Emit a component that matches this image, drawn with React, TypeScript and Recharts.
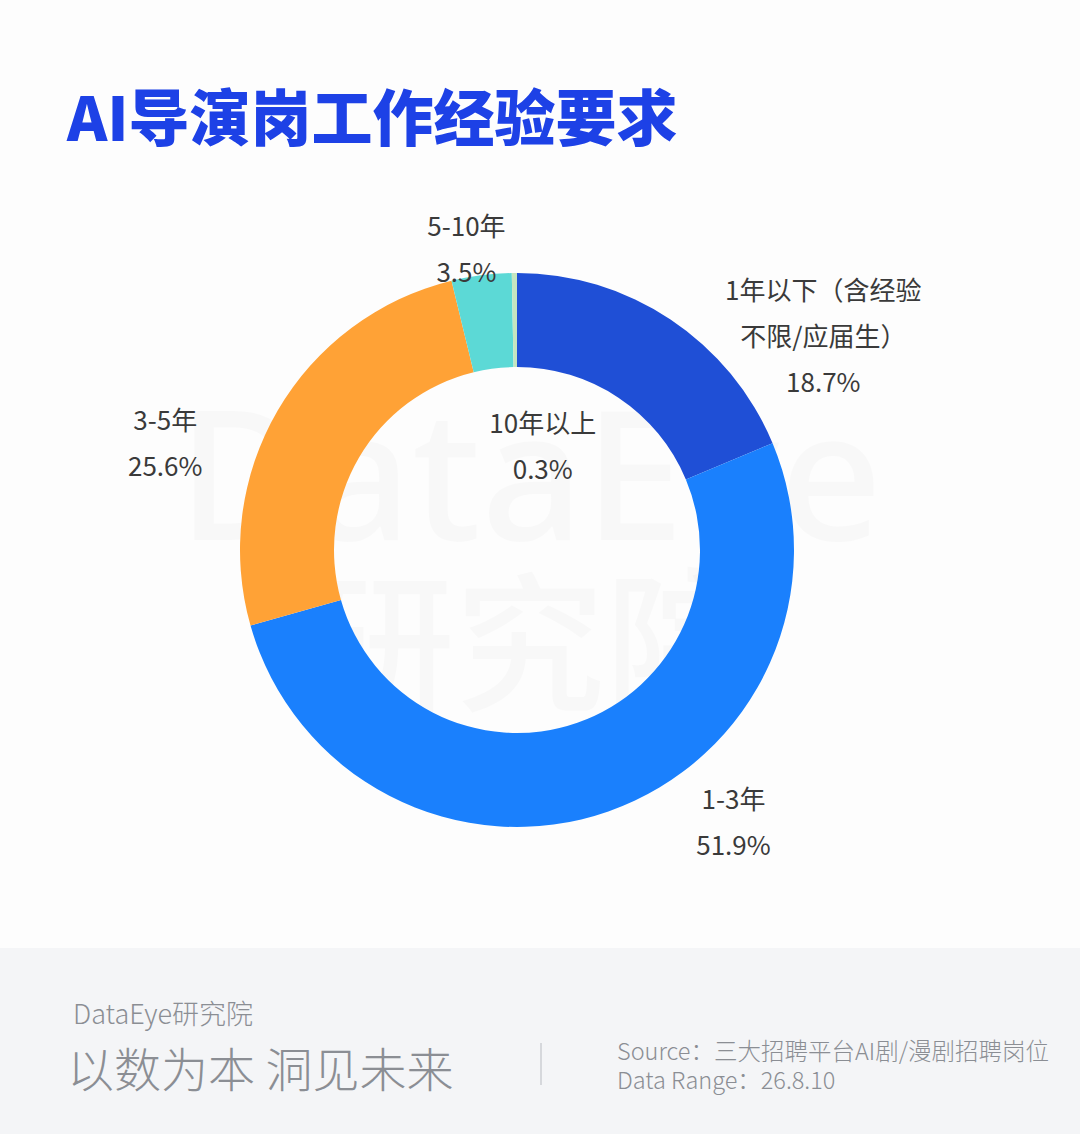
import { PieChart, Pie, Cell } from "recharts";

const categories = [
  "1年以下（含经验\n不限/应届生）",
  "1-3年",
  "3-5年",
  "5-10年",
  "10年以上",
];
const shares = [18.7, 51.9, 25.6, 3.5, 0.3];
const percentLabels = ["18.7%", "51.9%", "25.6%", "3.5%", "0.3%"];

const COLORS = ["#1f4fd6", "#1a80fd", "#ffa236", "#5cd9d6", "#c5e5c0"];

// nudges from the point just outside the ring, along each slice's mid angle
const LABEL_NUDGE = [
  [114, 73],
  [102, -57],
  [-52, 66],
  [-6, 42],
  [29, 241],
];

const data = categories.map((name, i) => ({ name, value: shares[i], pct: percentLabels[i] }));

const RADIAN = Math.PI / 180;
const LINE_GAP = 46;

const renderLabel = (props: any) => {
  const { cx, cy, midAngle, outerRadius, index } = props;
  const r = outerRadius + 70;
  const x = cx + r * Math.cos(-midAngle * RADIAN) + LABEL_NUDGE[index][0];
  const y = cy + r * Math.sin(-midAngle * RADIAN) + LABEL_NUDGE[index][1];
  const lines = [...data[index].name.split("\n"), data[index].pct];
  const top = y - ((lines.length - 1) * LINE_GAP) / 2;
  return (
    <g key={`label-${index}`}>
      {lines.map((line, i) => (
        <text
          key={i}
          x={x}
          y={top + i * LINE_GAP}
          textAnchor="middle"
          dominantBaseline="central"
          fill="#3a3a3a"
          fontSize={26}
          fontFamily="'Noto Sans CJK SC', 'Noto Sans', sans-serif"
        >
          {line}
        </text>
      ))}
    </g>
  );
};

const App = () => {
  return (
    <div
      style={{
        position: "absolute",
        left: 0,
        top: 0,
        width: 1080,
        height: 1134,
        background: "#fdfdfd",
        fontFamily: "'Noto Sans CJK SC', 'Noto Sans', sans-serif",
        overflow: "hidden",
      }}
    >
      <div
        style={{
          position: "absolute",
          left: 67,
          top: 84,
          fontSize: 61,
          lineHeight: "61px",
          fontWeight: 900,
          color: "#1d41e6",
          whiteSpace: "nowrap",
        }}
      >
        AI导演岗工作经验要求
      </div>

      {/* faint watermark */}
      <svg
        width={1080}
        height={940}
        style={{ position: "absolute", left: 0, top: 0, pointerEvents: "none" }}
      >
        <text
          x={530}
          y={540}
          textAnchor="middle"
          fontSize={180}
          fontWeight={500}
          fill="#000"
          fillOpacity={0.018}
          fontFamily="'Noto Sans', sans-serif"
        >
          DataEye
        </text>
        <text
          x={530}
          y={700}
          textAnchor="middle"
          fontSize={150}
          fontWeight={500}
          fill="#000"
          fillOpacity={0.018}
          fontFamily="'Noto Sans CJK SC', sans-serif"
        >
          研究院
        </text>
      </svg>

      <div style={{ position: "absolute", left: 0, top: 0 }}>
        <PieChart width={1080} height={940} margin={{ top: 0, right: 0, bottom: 0, left: 0 }}>
          <Pie
            data={data}
            dataKey="value"
            nameKey="name"
            cx={517}
            cy={550}
            innerRadius={183}
            outerRadius={277}
            startAngle={90}
            endAngle={-270}
            stroke="none"
            label={renderLabel}
            labelLine={false}
            isAnimationActive={false}
          >
            {data.map((entry, index) => (
              <Cell key={`cell-${index}`} fill={COLORS[index % COLORS.length]} />
            ))}
          </Pie>
        </PieChart>
      </div>

      <div
        style={{
          position: "absolute",
          left: 0,
          top: 948,
          width: 1080,
          height: 186,
          background: "#f4f5f7",
          color: "#8b8e94",
        }}
      >
        <div style={{ position: "absolute", left: 73, top: 50, fontSize: 27, lineHeight: "30px", fontWeight: 300, whiteSpace: "nowrap" }}>
          DataEye研究院
        </div>
        <div style={{ position: "absolute", left: 67, top: 92, fontSize: 47, lineHeight: "54px", fontWeight: 300, whiteSpace: "nowrap" }}>
          以数为本 洞见未来
        </div>
        <div
          style={{
            position: "absolute",
            left: 540,
            top: 95,
            width: 2,
            height: 42,
            background: "#d6d8dc",
          }}
        />
        <div style={{ position: "absolute", left: 617, top: 88, fontSize: 23.5, lineHeight: "29px", fontWeight: 300, whiteSpace: "nowrap" }}>
          Source：三大招聘平台AI剧/漫剧招聘岗位
          <br />
          Data Range：26.8.10
        </div>
      </div>
    </div>
  );
};

export default App;
